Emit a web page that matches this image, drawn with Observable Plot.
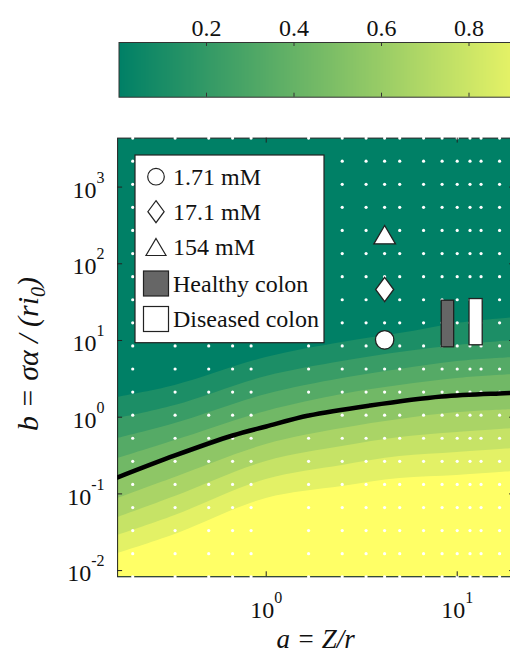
<!DOCTYPE html>
<html><head><meta charset="utf-8">
<script src="https://cdn.jsdelivr.net/npm/d3@7"></script>
<script src="https://cdn.jsdelivr.net/npm/@observablehq/plot@0.6"></script>
<style>
html,body{margin:0;padding:0;overflow:hidden;background:#fff;width:510px;height:655px}
#wrap{position:relative;width:510px;height:655px;overflow:hidden}
#cb{position:absolute;left:0;top:0;width:700px}
#main{position:absolute;left:0;top:100px;width:700px}
#wrap svg{max-width:none !important;font-family:"Liberation Serif","Times New Roman",serif !important}
#wrap svg text{font-family:"Liberation Serif","Times New Roman",serif !important}
</style></head><body><div id="wrap"><div id="cb"></div><div id="main"></div></div>
<script>
// ---------- data ----------
// contour boundary columns (a values) and the b value of each band boundary
const aCols = [1/6, 1/3, 1, 2.5, 5, 10, 20];
const level1 = [1.81, 2.59, 6.0, 9.42, 12.3, 16.7, 19.9];
const level2 = [0.962, 1.42, 3.39, 5.32, 6.98, 8.6, 10.0];
const level3 = [0.528, 0.828, 1.98, 3.2, 4.19, 5.32, 6.0];
const level4 = [0.289, 0.497, 1.19, 1.98, 2.59, 3.2, 3.6];
const level5 = [0.159, 0.289, 0.712, 1.19, 1.55, 1.86, 2.1];
const level6 = [0.087, 0.164, 0.441, 0.712, 0.933, 1.15, 1.26];
const level7 = [0.049, 0.0925, 0.265, 0.415, 0.544, 0.632, 0.712];
const level8 = [0.0287, 0.0523, 0.154, 0.235, 0.307, 0.347, 0.391];
const level9 = [0.0167, 0.0296, 0.0871, 0.125, 0.159, 0.174, 0.196];
const levels = [level1, level2, level3, level4, level5, level6, level7, level8, level9];
const bandColors = ["#008066","#1c8e66","#399c66","#55aa66","#71b866","#8ec666","#aad466","#c6e366","#e3f166","#ffff66"];

// black transition curve
const lineA = [1/6, 0.333, 0.667, 1, 1.67, 3.5, 8.3, 16.6, 20];
const lineB = [0.164, 0.317, 0.577, 0.757, 1.05, 1.42, 1.86, 2.04, 2.07];

// white sample grid
const dotA = [0.2, 0.3333, 0.5, 0.6667, 0.8333, 1.6667, 2.5, 3.3333, 4.1667, 5, 6.6667, 8.3333, 10, 11.6667, 13.3333, 16.6667];
const dotB = [0.0083, 0.0166, 0.0332, 0.0664, 0.1328, 0.2656, 0.5312, 1.0625, 2.125, 4.25, 8.5, 17, 34, 68, 136, 272, 544, 1088, 2176, 4352];

// measured markers
const markerNames = ["1.71 mM", "17.1 mM", "154 mM"];
const markerA = [4.17, 4.17, 4.17];
const markerB = [10.2, 46.2, 239.6];

// colon ranges
const colonNames = ["Healthy colon", "Diseased colon"];
const colonA1 = [8.3, 11.6];
const colonA2 = [9.64, 13.6];
const colonB1 = [8.15, 8.66];
const colonB2 = [33.0, 34.7];
const colonFill = ["#666666", "#ffffff"];

// ticks
const xTicks = [1, 10];
const yTicks = [0.01, 0.1, 1, 10, 100, 1000];
const cbTicks = [0.2, 0.4, 0.6, 0.8];
const yMin = 0.0083, yMax = 4352;

// ---------- symbols ----------
const circleSym = d3.symbolCircle;
const diamondSym = {draw(ctx, size){ const r = Math.sqrt(size/Math.PI); const w = r*0.74;
  ctx.moveTo(0,-r); ctx.lineTo(w,0); ctx.lineTo(0,r); ctx.lineTo(-w,0); ctx.closePath(); }};
const triSym = {draw(ctx, size){ const r = Math.sqrt(size/Math.PI);
  ctx.moveTo(0,-r); ctx.lineTo(r*1.18, r); ctx.lineTo(-r*1.18, r); ctx.closePath(); }};
const markerSyms = [circleSym, diamondSym, triSym];
const markerR = [9.2, 12.2, 9.15];

const NS = "http://www.w3.org/2000/svg";

function supify(svg, sel, shift) {
  svg.querySelectorAll(sel).forEach(t => {
    const e = t.textContent;
    t.textContent = "";
    const a = document.createElementNS(NS, "tspan"); a.textContent = "10"; t.appendChild(a);
    const b = document.createElementNS(NS, "tspan"); b.textContent = e;
    b.setAttribute("dy", shift); b.setAttribute("font-size", "16"); t.appendChild(b);
  });
}

// ---------- colorbar ----------
const cbH = 100, cbMT = 42, cbMB = 3.3;
const cbFrameH = cbH - cbMT - cbMB;
const cb = Plot.plot({
  width: 600, height: cbH, marginLeft: 118.5, marginRight: 44, marginTop: cbMT, marginBottom: cbMB,
  style: {fontSize: "24px", background: "transparent", overflow: "visible", color: "#111"},
  x: {domain: [0, 1]},
  y: {domain: [0, 1], axis: null},
  color: {type: "linear", domain: [0, 1], range: [bandColors[0], bandColors[9]], interpolate: "rgb"},
  marks: [
    Plot.raster({x1: 0, x2: 1, y1: 0, y2: 1, width: 400, height: 2, fill: (x, y) => x, imageRendering: "auto"}),
    Plot.frame({stroke: "#333"}),
    Plot.tickX(cbTicks, {x: d => d, insetBottom: cbFrameH - 4, stroke: "#333"}),
    Plot.tickX(cbTicks, {x: d => d, insetTop: cbFrameH - 4, stroke: "#333"}),
    Plot.axisX({anchor: "top", ticks: cbTicks, tickSize: 0, tickPadding: 7, fontSize: 24,
      tickFormat: d3.format(".1f"), label: null})
  ]
});
document.getElementById("cb").appendChild(cb);

// ---------- main plot ----------
const W = 540, H = 555, mL = 117.1, mT = 37.6, mB = 78.7, mR = W - 514.2;
const frameW = W - mL - mR, frameH = H - mT - mB;
const dots = dotB.flatMap(b => dotA.map(a => ({a, b})));
const expFmt = d => String(Math.round(Math.log10(d)));

const marks = [Plot.frame({fill: bandColors[0]})];
levels.forEach((lv, k) => {
  marks.push(Plot.areaY(aCols.map((a, i) => ({a, b: lv[i]})),
    {x: "a", y1: yMin, y2: "b", fill: bandColors[k + 1], curve: "catmull-rom", clip: true}));
});
marks.push(
  Plot.frame({stroke: "#222"}),
  Plot.dot(dots, {x: "a", y: "b", r: 1.6, fill: "white", stroke: null}),
  Plot.line(lineA.map((a, i) => ({a, b: lineB[i]})), {x: "a", y: "b", stroke: "black", strokeWidth: 4.5, curve: "catmull-rom", clip: true}),
  Plot.tickY(yTicks, {y: d => d, insetRight: frameW - 5, stroke: "#222"}),
  Plot.tickY(yTicks, {y: d => d, insetLeft: frameW - 5, stroke: "#222"}),
  Plot.tickX(xTicks, {x: d => d, insetBottom: frameH - 5, stroke: "#222"}),
  Plot.tickX(xTicks, {x: d => d, insetTop: frameH - 5, stroke: "#222"}),
  Plot.rect(colonNames.map((n, i) => ({n, a1: colonA1[i], a2: colonA2[i], b1: colonB1[i], b2: colonB2[i], f: colonFill[i]})),
    {x1: "a1", x2: "a2", y1: "b1", y2: "b2", fill: "f", stroke: "#222", strokeWidth: 1.3})
);
markerNames.forEach((n, i) => {
  marks.push(Plot.dot([{a: markerA[i], b: markerB[i]}], {x: "a", y: "b", symbol: markerSyms[i], r: markerR[i], fill: "white", stroke: "#222", strokeWidth: 1.3}));
});
marks.push(
  Plot.axisX({ticks: xTicks, tickSize: 0, tickPadding: 24, fontSize: 24, tickFormat: expFmt, label: null}),
  Plot.axisY({ticks: yTicks, tickSize: 0, tickPadding: 13, fontSize: 24, dy: 3, tickFormat: expFmt, label: null})
);

const main = Plot.plot({
  width: W, height: H, marginLeft: mL, marginRight: mR, marginTop: mT, marginBottom: mB,
  style: {fontSize: "24px", background: "transparent", overflow: "visible", color: "#111"},
  x: {type: "log", domain: [1/6, 20]},
  y: {type: "log", domain: [yMin, yMax]},
  marks
});
document.getElementById("main").appendChild(main);
supify(main, 'g[aria-label="x-axis tick label"] text', "-15");
supify(main, 'g[aria-label="y-axis tick label"] text', "-15");

const svg = d3.select(main);
// axis titles
const yt = svg.append("text").attr("transform", "translate(38,254) rotate(-90)")
  .attr("text-anchor", "middle").attr("font-style", "italic").attr("font-size", 30).attr("fill", "#111");
yt.append("tspan").text("b = σα / (ri");
yt.append("tspan").attr("font-size", 20).attr("dy", 7).text("0");
yt.append("tspan").attr("dy", -7).text(")");
svg.append("text").attr("x", (mL + W - mR) / 2).attr("y", 548).attr("text-anchor", "middle")
  .attr("font-style", "italic").attr("font-size", 27).attr("fill", "#111").text("a = Z/r");

// legend
const lg = svg.append("g").attr("text-anchor", "start");
lg.append("rect").attr("x", 135).attr("y", 55).attr("width", 189).attr("height", 187.7)
  .attr("fill", "white").attr("stroke", "#222").attr("stroke-width", 1.2);
const rowY = [76.7, 111.7, 147, 183.5, 219];
markerNames.forEach((n, i) => {
  lg.append("path").attr("transform", `translate(156,${rowY[i]})`)
    .attr("d", d3.symbol(markerSyms[i], [8.3, 11, 8.5][i] ** 2 * Math.PI)())
    .attr("fill", "white").attr("stroke", "#222").attr("stroke-width", 1.2);
  lg.append("text").attr("x", 173).attr("y", rowY[i] + 8.3).attr("text-anchor", "start")
    .attr("font-size", 24).attr("fill", "#111").text(n);
});
colonNames.forEach((n, i) => {
  lg.append("rect").attr("x", 143.5).attr("y", rowY[3 + i] - 12.5).attr("width", 25).attr("height", 25)
    .attr("fill", colonFill[i]).attr("stroke", "#222").attr("stroke-width", 1.2);
  lg.append("text").attr("x", 173).attr("y", rowY[3 + i] + 8.3).attr("text-anchor", "start")
    .attr("font-size", 24).attr("fill", "#111").text(n);
});
</script></body></html>
